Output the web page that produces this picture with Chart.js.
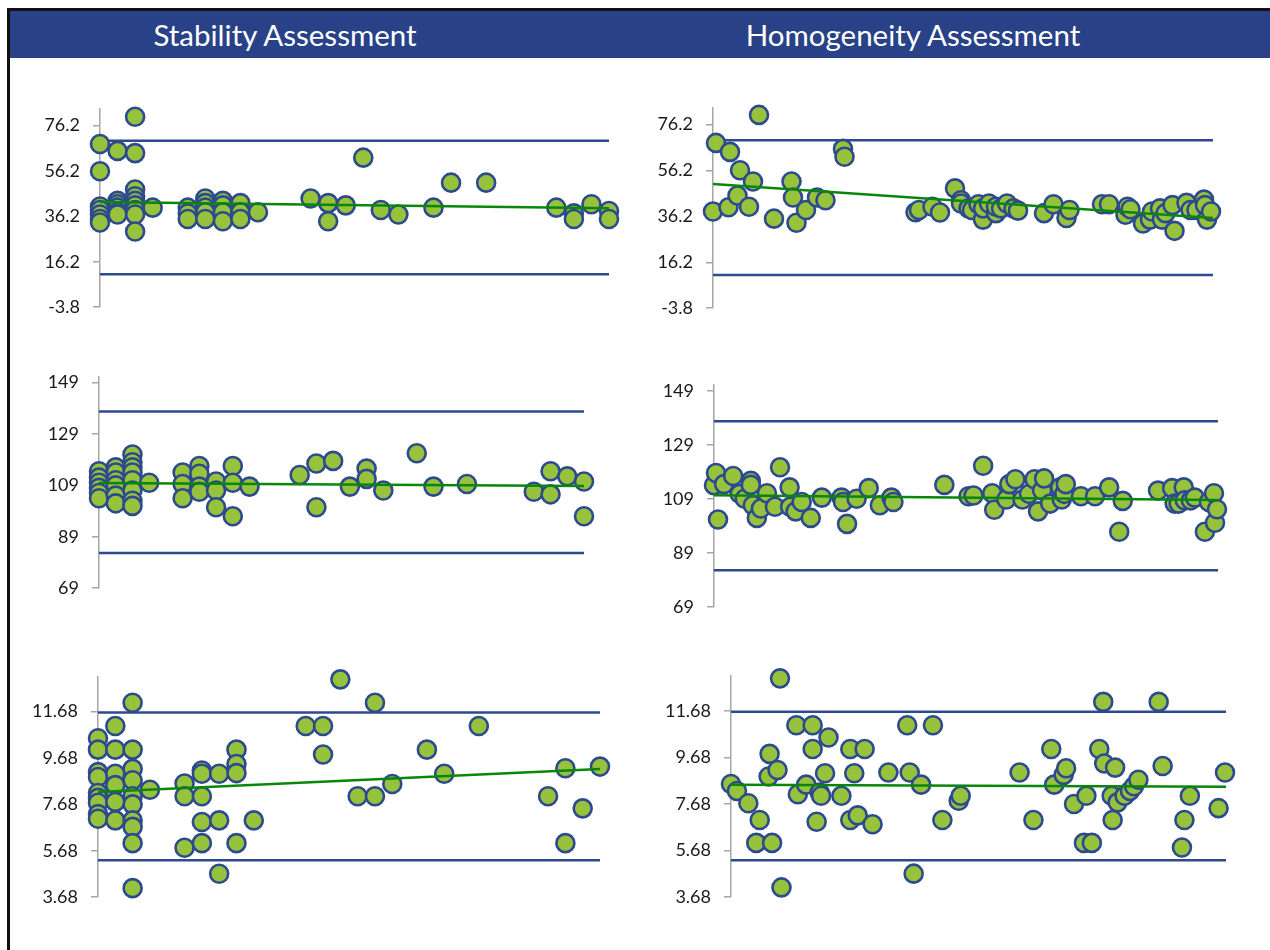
<!DOCTYPE html>
<html>
<head>
<meta charset="utf-8">
<title>Stability and Homogeneity Assessment</title>
<script src="https://cdn.jsdelivr.net/npm/chart.js@4.4.1/dist/chart.umd.min.js"></script>
<style>
  body { margin: 0; background: #fff; font-family: Lato, sans-serif; }
  #page { position: relative; width: 1270px; height: 950px; overflow: hidden; }
  #frame { position: absolute; left: 7px; top: 8px; right: -5px; bottom: -5px; border-left: 3px solid #111; border-top: 3px solid #111; }
  #band { position: absolute; left: 10px; top: 11px; width: 1260px; height: 47px; background: #284187; }
  .title { position: absolute; top: 11px; height: 47px; line-height: 47px; color: #fff; font-size: 29.5px; transform: translateX(-50%); white-space: nowrap; }
  canvas { position: absolute; }
</style>
</head>
<body>
<div id="page">
  <div id="frame"></div>
  <div id="band"></div>
  <div class="title" style="left:285px">Stability Assessment</div>
  <div class="title" style="left:913px">Homogeneity Assessment</div>
  <canvas id="c1"></canvas>
  <canvas id="c2"></canvas>
  <canvas id="c3"></canvas>
  <canvas id="c4"></canvas>
  <canvas id="c5"></canvas>
  <canvas id="c6"></canvas>
</div>
<script>
// y axis ticks for each row
const ticksA = [-3.8, 16.2, 36.2, 56.2, 76.2];
const labelsA = ["-3.8", "16.2", "36.2", "56.2", "76.2"];
const ticksB = [69, 89, 109, 129, 149];
const labelsB = ["69", "89", "109", "129", "149"];
const ticksC = [3.68, 5.68, 7.68, 9.68, 11.68];
const labelsC = ["3.68", "5.68", "7.68", "9.68", "11.68"];

// control limits [upper, lower] per row
const limitsA = [69.4, 10.7];
const limitsB = [137.7, 82.7];
const limitsC = [11.64, 5.27];

// stability: x = time point index (0..29)
const stab1X = [0,0,0,0,0,0,0, 1,1,1,1,1,1, 2,2,2,2,2,2,2,2,2, 3, 5,5,5, 6,6,6,6,6, 7,7,7,7, 8,8,8, 9, 12, 13,13, 14, 15, 16, 17, 19, 20, 22, 26, 27,27, 28, 29,29];
const stab1Y = [68,56,40.5,39,37,35,33.5, 65,43,41.5,40,38,37, 80,64,48,45,43,41,39,37,29.5, 40, 40,37.5,35, 44,42,40,38,35, 43,41,38,34, 42,38,35, 38, 44, 42,34, 41, 62, 39, 37, 40, 51, 51, 40, 37.5,35, 41.5, 38.5,35];
const stab1Trend = [42.5, 39.7];

const stab2X = [0,0,0,0,0,0, 1,1,1,1,1,1, 2,2,2,2,2,2,2,2, 3, 5,5,5, 6,6,6,6, 7,7,7, 8,8,8, 9, 12, 13,13, 14, 15, 16,16, 17, 19, 20, 22, 26, 27,27, 28, 29,29];
const stab2Y = [114.5,112,110,108,106,104, 116,114,111,109,105,102, 121,118,116,114,111,107,103,101, 110, 114,109.5,104, 116.5,113.5,108.5,106.5, 110.5,107,100.5, 116.5,110,97, 108.5, 113, 117.5,100.5, 118.5, 108.5, 115.5,111.5, 107, 121.5, 108.5, 109.5, 106.5, 114.5,105.5, 112.5, 110.5,97];
const stab2Trend = [109.9, 108.7];

const stab3X = [0,0,0,0,0,0,0,0,0, 1,1,1,1,1,1, 2,2,2,2,2,2,2,2,2,2, 3, 5,5,5, 6,6,6,6,6, 7,7,7, 8,8,8,8, 9, 12, 13,13, 14, 15, 16,16, 17, 19, 20, 22, 26, 27,27, 28, 29];
const stab3Y = [10.53,10.04,9.07,8.86,8.17,7.96,7.75,7.26,7.06, 11.06,10.04,9.0,8.51,7.79,6.99, 12.06,10.04,9.21,8.72,8.03,7.68,6.99,6.71,6.01,4.07, 8.31, 8.58,8.03,5.81, 9.14,9.0,8.03,6.92,6.01, 9.0,6.99,4.69, 10.04,9.42,9.03,6.01, 6.99, 11.06, 11.06,9.83, 13.07, 8.03, 12.06,8.03, 8.56, 10.04, 9.0, 11.06, 8.03, 9.24,6.01, 7.51, 9.31];
const stab3Trend = [8.21, 9.21];

// homogeneity: x = sample position (0..100)
const homo1X = [0,0.6,3.1,3.4,4.9,5.4,7.2,8.0,9.2,12.2,15.7,16.0,16.7,18.6,20.8,22.5,26.0,26.3, 40.5,41.2,43.9,45.4,48.4,49.6,49.6,51.1,51.8,53.1,54.0,54.0,55.2,56.6,56.6,57.6,58.8,60.1,61.0,66.2,68.1,70.7,71.3,77.8,79.2,82.5,82.9,83.5,86.0,87.4,87.8,89.4,89.8,90.5,91.9,92.3,94.7,95.5,96.7,98.2,98.4,98.8,99.6];
const homo1Y = [38.3,68.2,40.2,64.3,45.3,56.3,40.4,51.4,80.4,35.2,51.4,44.4,33.4,39.0,44.4,43.2,65.6,62.2, 38.0,39.0,40.4,37.9,48.4,43.2,41.8,39.7,39.0,41.5,34.8,39.7,41.8,37.6,40.4,39.7,41.8,39.7,38.7,37.6,41.5,35.5,39.0,41.5,41.5,36.9,40.4,39.3,33.1,34.8,38.3,39.7,34.8,37.6,41.1,29.9,42.1,39.0,39.0,43.5,41.1,34.8,38.3];
const homo1Trend = [50.3, 35.5];

const homo2X = [0,0.4,0.8,2.0,3.8,5.1,6.1,7.3,7.3,7.7,8.5,9.3,10.5,12.1,13.1,15.0,15.1,16.2,17.4,19.2,21.4,25.3,25.6,26.4,28.3,30.7,32.9,35.2,35.6,45.7,50.5,51.5,53.4,55.2,55.6,58.0,58.6,59.8,61.2,62.5,63.6,64.3,65.1,65.5,66.7,68.7,69.0,69.5,69.8,72.8,75.6,78.4,80.4,81.1,88.1,90.9,91.4,92.2,93.2,93.4,94.6,95.4,97.4,98.2,99.2,99.4,99.8];
const homo2Y = [114.1,118.6,101.4,114.5,117.5,110.9,109.1,115.7,114.2,106.7,102.0,105.5,111.1,106.1,120.7,113.3,106.1,104.4,107.9,102.0,109.5,109.5,107.9,99.8,109.1,113.0,106.7,109.5,107.9,114.2,110.0,110.3,121.3,111.1,105.0,108.8,114.5,116.3,108.8,110.9,116.3,104.4,112.1,116.6,107.3,113.3,108.8,110.9,114.5,110.0,110.0,113.3,96.9,108.3,112.1,113.0,107.3,107.3,113.3,108.5,108.5,109.5,96.9,107.9,111.1,100.2,105.2];
const homo2Trend = [110.4, 108.6];

const homo3X = [0,1.2,3.5,5.1,5.8,7.6,7.8,8.3,9.4,9.9,10.2,13.2,13.5,15.2,16.5,16.5,17.3,17.9,18.2,19.0,19.7,22.3,24.1,24.1,24.9,25.6,27.0,28.6,31.8,35.6,36.1,36.9,38.4,40.8,42.7,46.0,46.4,58.3,61.1,64.7,65.3,67.2,67.7,69.3,71.3,71.8,72.9,74.4,75.2,75.4,76.9,77.1,77.6,78.1,79.5,80.6,81.4,82.3,86.4,87.2,91.1,91.6,92.7,98.5,99.8];
const homo3Y = [8.54,8.24,7.71,6.01,6.99,8.86,9.83,6.01,9.14,13.07,4.10,11.06,8.10,8.51,11.06,10.04,6.92,8.17,8.03,9.0,10.53,8.03,10.04,6.99,9.0,7.19,10.04,6.81,9.03,11.06,9.03,4.69,8.51,11.06,6.99,7.82,8.03,9.03,6.99,10.04,8.51,8.93,9.21,7.68,6.01,8.03,6.01,10.04,12.06,9.42,8.03,6.99,9.24,7.75,8.03,8.24,8.44,8.72,12.06,9.31,5.81,6.99,8.03,7.50,9.03];
const homo3Trend = [8.51, 8.42];

const AXIS_W = 95, PAD = 20;
const navy = "#2D4A8E";
const green = "#97C23C";

Chart.defaults.font.family = "Lato, 'Open Sans', sans-serif";
Chart.defaults.font.size = 18;
Chart.defaults.color = "#1a1a1a";

function makeChart(id, box, xs, ys, trend, limits, ticks, labels, yMax, xMax) {
    const canvas = document.getElementById(id);
    canvas.width = AXIS_W + (box.right - box.axisX) + PAD;
    canvas.height = PAD + (box.bottom - box.top) + PAD;
    canvas.style.left = (box.axisX - AXIS_W) + "px";
    canvas.style.top = (box.top - PAD) + "px";

    const pts = xs.map((x, i) => ({ x: x, y: ys[i] }));
    const hline = v => [{ x: 0, y: v }, { x: xMax, y: v }];

    return new Chart(canvas, {
        type: 'scatter',
        data: {
            datasets: [
                {
                    data: [{ x: 0, y: trend[0] }, { x: xMax, y: trend[1] }],
                    showLine: true, borderColor: "#0A860A", borderWidth: 2.5,
                    pointRadius: 0, order: 0, clip: false
                },
                {
                    data: pts,
                    pointRadius: 9, pointBorderWidth: 2.6,
                    backgroundColor: green, borderColor: navy,
                    order: 1, clip: false
                },
                {
                    data: hline(limits[0]),
                    showLine: true, borderColor: navy, borderWidth: 2.5,
                    pointRadius: 0, order: 2, clip: false
                },
                {
                    data: hline(limits[1]),
                    showLine: true, borderColor: navy, borderWidth: 2.5,
                    pointRadius: 0, order: 2, clip: false
                }
            ]
        },
        options: {
            responsive: false,
            animation: false,
            events: [],
            layout: { padding: { left: 0, top: PAD, right: PAD, bottom: PAD } },
            plugins: { legend: { display: false }, tooltip: { enabled: false } },
            scales: {
                x: { type: 'linear', min: 0, max: xMax, display: false },
                y: {
                    type: 'linear',
                    min: ticks[0],
                    max: yMax,
                    afterBuildTicks: axis => { axis.ticks = ticks.map(v => ({ value: v })); },
                    afterFit: axis => { axis.width = AXIS_W; },
                    ticks: { autoSkip: false, padding: 13, callback: (v, i) => labels[i] },
                    grid: { drawOnChartArea: false, drawTicks: true, tickLength: 7, color: "#A6A6A6", lineWidth: 1.5 },
                    border: { display: true, color: "#A6A6A6", width: 1.5 }
                }
            }
        }
    });
}

makeChart("c1", { axisX: 100, right: 609, top: 105, bottom: 311 }, stab1X, stab1Y, stab1Trend, limitsA, ticksA, labelsA, 83.5, 29);
makeChart("c2", { axisX: 713, right: 1213, top: 104, bottom: 312 }, homo1X, homo1Y, homo1Trend, limitsA, ticksA, labelsA, 83.5, 100);
makeChart("c3", { axisX: 99, right: 584, top: 373, bottom: 592 }, stab2X, stab2Y, stab2Trend, limitsB, ticksB, labelsB, 151.2, 29);
makeChart("c4", { axisX: 714, right: 1218, top: 381, bottom: 611 }, homo2X, homo2Y, homo2Trend, limitsB, ticksB, labelsB, 151.2, 100);
makeChart("c5", { axisX: 98, right: 600, top: 673, bottom: 901 }, stab3X, stab3Y, stab3Trend, limitsC, ticksC, labelsC, 13.18, 29);
makeChart("c6", { axisX: 731, right: 1226, top: 672, bottom: 901 }, homo3X, homo3Y, homo3Trend, limitsC, ticksC, labelsC, 13.18, 100);
</script>
</body>
</html>
